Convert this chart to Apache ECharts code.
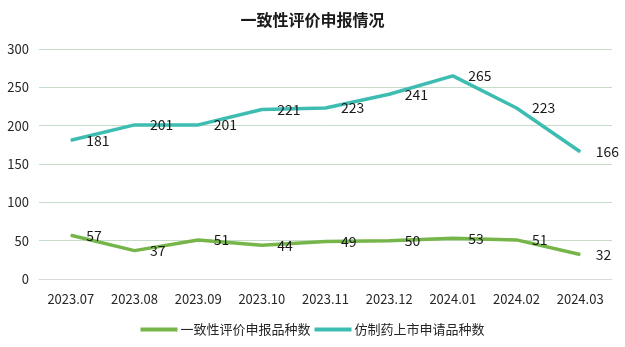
<!DOCTYPE html>
<html><head><meta charset="utf-8">
<script src="https://cdn.jsdelivr.net/npm/echarts@6/dist/echarts.min.js"></script>
<style>html,body{margin:0;padding:0;background:#fff}#c{width:625px;height:347px}</style>
</head><body><div id="c"></div>
<script>
var categories = ['2023.07','2023.08','2023.09','2023.10','2023.11','2023.12','2024.01','2024.02','2024.03'];
var consistency = [57,37,51,44,49,50,53,51,32];
var generic = [181,201,201,221,223,241,265,223,166];
var seriesNames = ['一致性评价申报品种数','仿制药上市申请品种数'];
var titleText = '一致性评价申报情况';

var font = '"Microsoft YaHei","Noto Sans CJK SC","Liberation Sans",sans-serif';
var chart = echarts.init(document.getElementById('c'));
var lbl = {show:true, position:'right', distance:15, color:'#1a1a1a', fontSize:14, fontFamily:font};
chart.setOption({
  animation:false,
  title:{text:titleText,left:'center',top:7,textStyle:{fontSize:16,fontWeight:'bold',color:'#1a1a1a',fontFamily:font}},
  grid:{left:39,right:13,top:49,bottom:68,containLabel:false},
  legend:{top:318,left:'center',itemWidth:37,itemHeight:4,itemGap:4,icon:'rect',
    textStyle:{fontSize:13,color:'#262626',fontFamily:font,padding:[0,0,0,-2]},data:seriesNames},
  xAxis:{type:'category',data:categories,boundaryGap:true,
    axisLine:{lineStyle:{color:'#d9d9d9'}},axisTick:{show:false},
    axisLabel:{color:'#262626',fontSize:13,fontFamily:font,margin:14}},
  yAxis:{type:'value',min:0,max:300,interval:50,
    axisLine:{show:false},axisTick:{show:false},
    axisLabel:{color:'#262626',fontSize:13,fontFamily:font,margin:10},
    splitLine:{lineStyle:{color:'#c5dcc9'}}},
  series:[
    {name:seriesNames[0],type:'line',data:consistency,symbol:'circle',symbolSize:1,showSymbol:true,lineStyle:{width:3.5,color:'#76b54a'},itemStyle:{color:'#76b54a'},label:lbl},
    {name:seriesNames[1],type:'line',data:generic,symbol:'circle',symbolSize:1,showSymbol:true,lineStyle:{width:3.5,color:'#3dbdb1'},itemStyle:{color:'#3dbdb1'},label:lbl}
  ]
});
</script></body></html>
